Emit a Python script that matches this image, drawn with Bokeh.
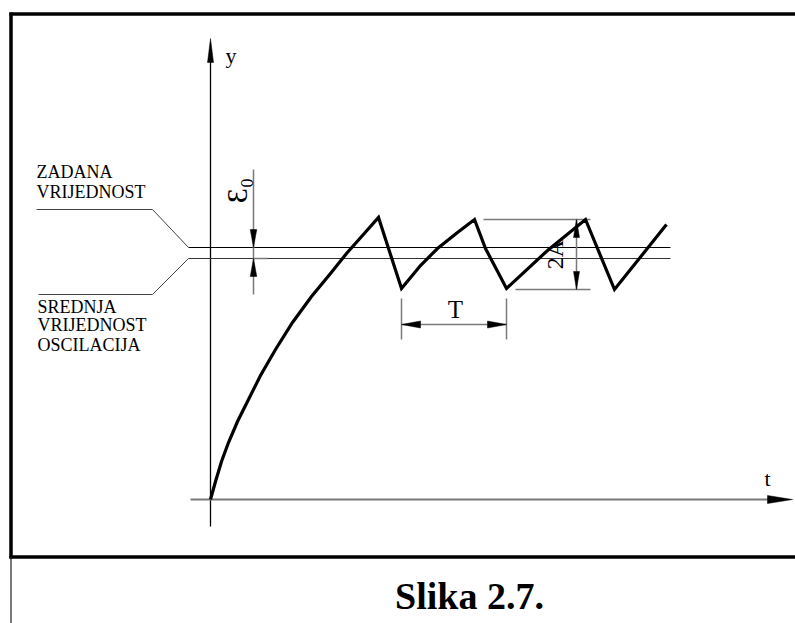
import math
from bokeh.plotting import figure
from bokeh.models import Range1d
from bokeh.core.properties import value
from bokeh.embed import file_html
from bokeh.resources import INLINE

# ---- data (time t, output y; arbitrary units) ----
t_curve = [0.0, 0.5, 1.1, 1.8, 2.7, 3.7, 5.0, 6.5, 8.2, 10.1, 12.0, 13.6, 15.2, 16.8,
           19.1, 21.0, 22.7, 24.7, 26.4, 27.5, 29.6, 33.7, 37.5, 40.4, 45.6]
y_curve = [0.0, 1.8, 3.8, 5.7, 7.8, 9.8, 12.4, 15.0, 17.7, 20.3, 22.6, 24.6, 26.4, 28.2,
           21.1, 23.4, 25.1, 26.7, 28.0, 25.1, 21.1, 24.9, 28.0, 21.0, 27.5]
setpoint = 25.2        # zadana vrijednost
mean_value = 24.1      # srednja vrijednost oscilacija
osc_max = 28.0
osc_min = 21.0
period_start = 19.1
period_end = 29.6
setpoint_label = ["ZADANA", "VRIJEDNOST"]
mean_label = ["SREDNJA", "VRIJEDNOST", "OSCILACIJA"]
axis_labels = ["y", "t"]
dim_labels = ["Ɛ₀", "T", "2A"]
caption = "Slika 2.7."

# ---- figure: 10 px per data unit in both directions ----
W, H = 795, 623
PX = 10.0
x0, y0 = -21.0, -12.4
p = figure(width=W, height=H,
           x_range=Range1d(x0, x0 + W / PX), y_range=Range1d(y0, y0 + H / PX),
           x_axis_type=None, y_axis_type=None, toolbar_location=None,
           output_backend="svg", min_border=0, outline_line_color=None)
p.background_fill_color = "white"
p.border_fill_color = "white"

SERIF = value("Liberation Serif")
GRAY = "#7a7a7a"


def head(tx, ty, dx, dy, length_px, width_px):
    n = math.hypot(dx, dy)
    ux, uy = dx / n, dy / n
    L, Wd = length_px / PX, width_px / PX / 2
    bx, by = tx - ux * L, ty - uy * L
    return ([tx, bx - uy * Wd, bx + uy * Wd], [ty, by + ux * Wd, by - ux * Wd])


heads_x, heads_y = [], []

def add_head(*a):
    hx, hy = head(*a)
    heads_x.append(hx)
    heads_y.append(hy)

# outer frame (its right edge lies outside the picture)
fl, ft, fb = -19.95, 48.55, -5.75
p.line([fl - 0.15, 62], [ft, ft], line_color="black", line_width=3.5)
p.line([fl - 0.15, 62], [fb, fb], line_color="black", line_width=3.5)
p.line([fl, fl], [ft + 0.15, fb - 0.15], line_color="black", line_width=3.5)
p.line([fl, fl], [fb, -13.0], line_color="#222222", line_width=1.2)

# axes
p.line([0, 0], [-2.7, 44.0], line_color="black", line_width=1.3)
add_head(0, 46.1, 0, 1, 24, 6)
p.line([-2.0, 56.0], [0, 0], line_color=GRAY, line_width=2)
add_head(58.2, 0, 1, 0, 25, 8)

# set-point and mean lines
line_end = 46.0
p.line([-2.2, line_end], [setpoint, setpoint], line_color="black", line_width=1)
p.line([-2.2, line_end], [mean_value, mean_value], line_color="#333333", line_width=1)

# leader lines for the left-hand labels
p.line([-17.4, -5.8, -2.2], [setpoint + 3.8, setpoint + 3.8, setpoint],
       line_color="#444444", line_width=1)
p.line([-17.2, -5.8, -2.2], [mean_value - 3.6, mean_value - 3.6, mean_value],
       line_color="#444444", line_width=1)

# epsilon_0 dimension
p.line([4.3, 4.3], [33.0, 20.5], line_color=GRAY, line_width=1.5)
p.line([4.3, 5.7], [mean_value, mean_value], line_color=GRAY, line_width=1.5)
add_head(4.3, setpoint, 0, -1, 18, 6.5)
add_head(4.3, mean_value, 0, 1, 18, 6.5)

# period T dimension
for tp in (period_start, period_end):
    p.line([tp, tp], [osc_min - 0.9, osc_min - 5.0], line_color=GRAY, line_width=1.5)
p.line([period_start, period_end], [17.5, 17.5], line_color=GRAY, line_width=1.5)
add_head(period_start, 17.5, -1, 0, 19, 7)
add_head(period_end, 17.5, 1, 0, 19, 7)

# amplitude 2A dimension
p.line([27.3, 38.0], [osc_max, osc_max], line_color=GRAY, line_width=1.5)
p.line([30.5, 38.0], [osc_min, osc_min], line_color=GRAY, line_width=1.5)
p.line([36.6, 36.6], [osc_min, osc_max], line_color=GRAY, line_width=1.5)
add_head(36.6, osc_max, 0, 1, 18, 6)
add_head(36.6, osc_min, 0, -1, 18, 6)

p.patches(heads_x, heads_y, fill_color="black", line_color="black", line_width=0.5)

# response curve
p.line(t_curve, y_curve, line_color="black", line_width=3.2, line_join="miter")

# texts (all vertically centred)
p.text(x=[-17.4, -17.4], y=[32.75, 30.75], text=setpoint_label, text_font=SERIF,
       text_font_size="18px", text_align="left", text_baseline="middle")
p.text(x=[-17.3, -17.3, -17.3], y=[19.3, 17.5, 15.5], text=mean_label, text_font=SERIF,
       text_font_size="18px", text_align="left", text_baseline="middle")
p.text(x=[1.5, 55.4], y=[44.4, 2.1], text=axis_labels, text_font=SERIF,
       text_font_size="22px", text_align="left", text_baseline="middle")
p.text(x=[2.6], y=[30.9], text=[dim_labels[0]], text_font=SERIF, text_font_size="30px",
       text_align="center", text_baseline="middle", angle=math.pi / 2)
p.text(x=[24.5], y=[19.0], text=[dim_labels[1]], text_font=SERIF, text_font_size="25px",
       text_align="center", text_baseline="middle")
p.text(x=[34.4], y=[24.5], text=[dim_labels[2]], text_font=SERIF, text_font_size="24px",
       text_align="center", text_baseline="middle", angle=math.pi / 2)
p.text(x=[25.9], y=[-9.6], text=[caption], text_font=SERIF, text_font_size="38px",
       text_font_style="bold", text_align="center", text_baseline="middle")

open("out.html", "w").write(file_html(p, INLINE))
